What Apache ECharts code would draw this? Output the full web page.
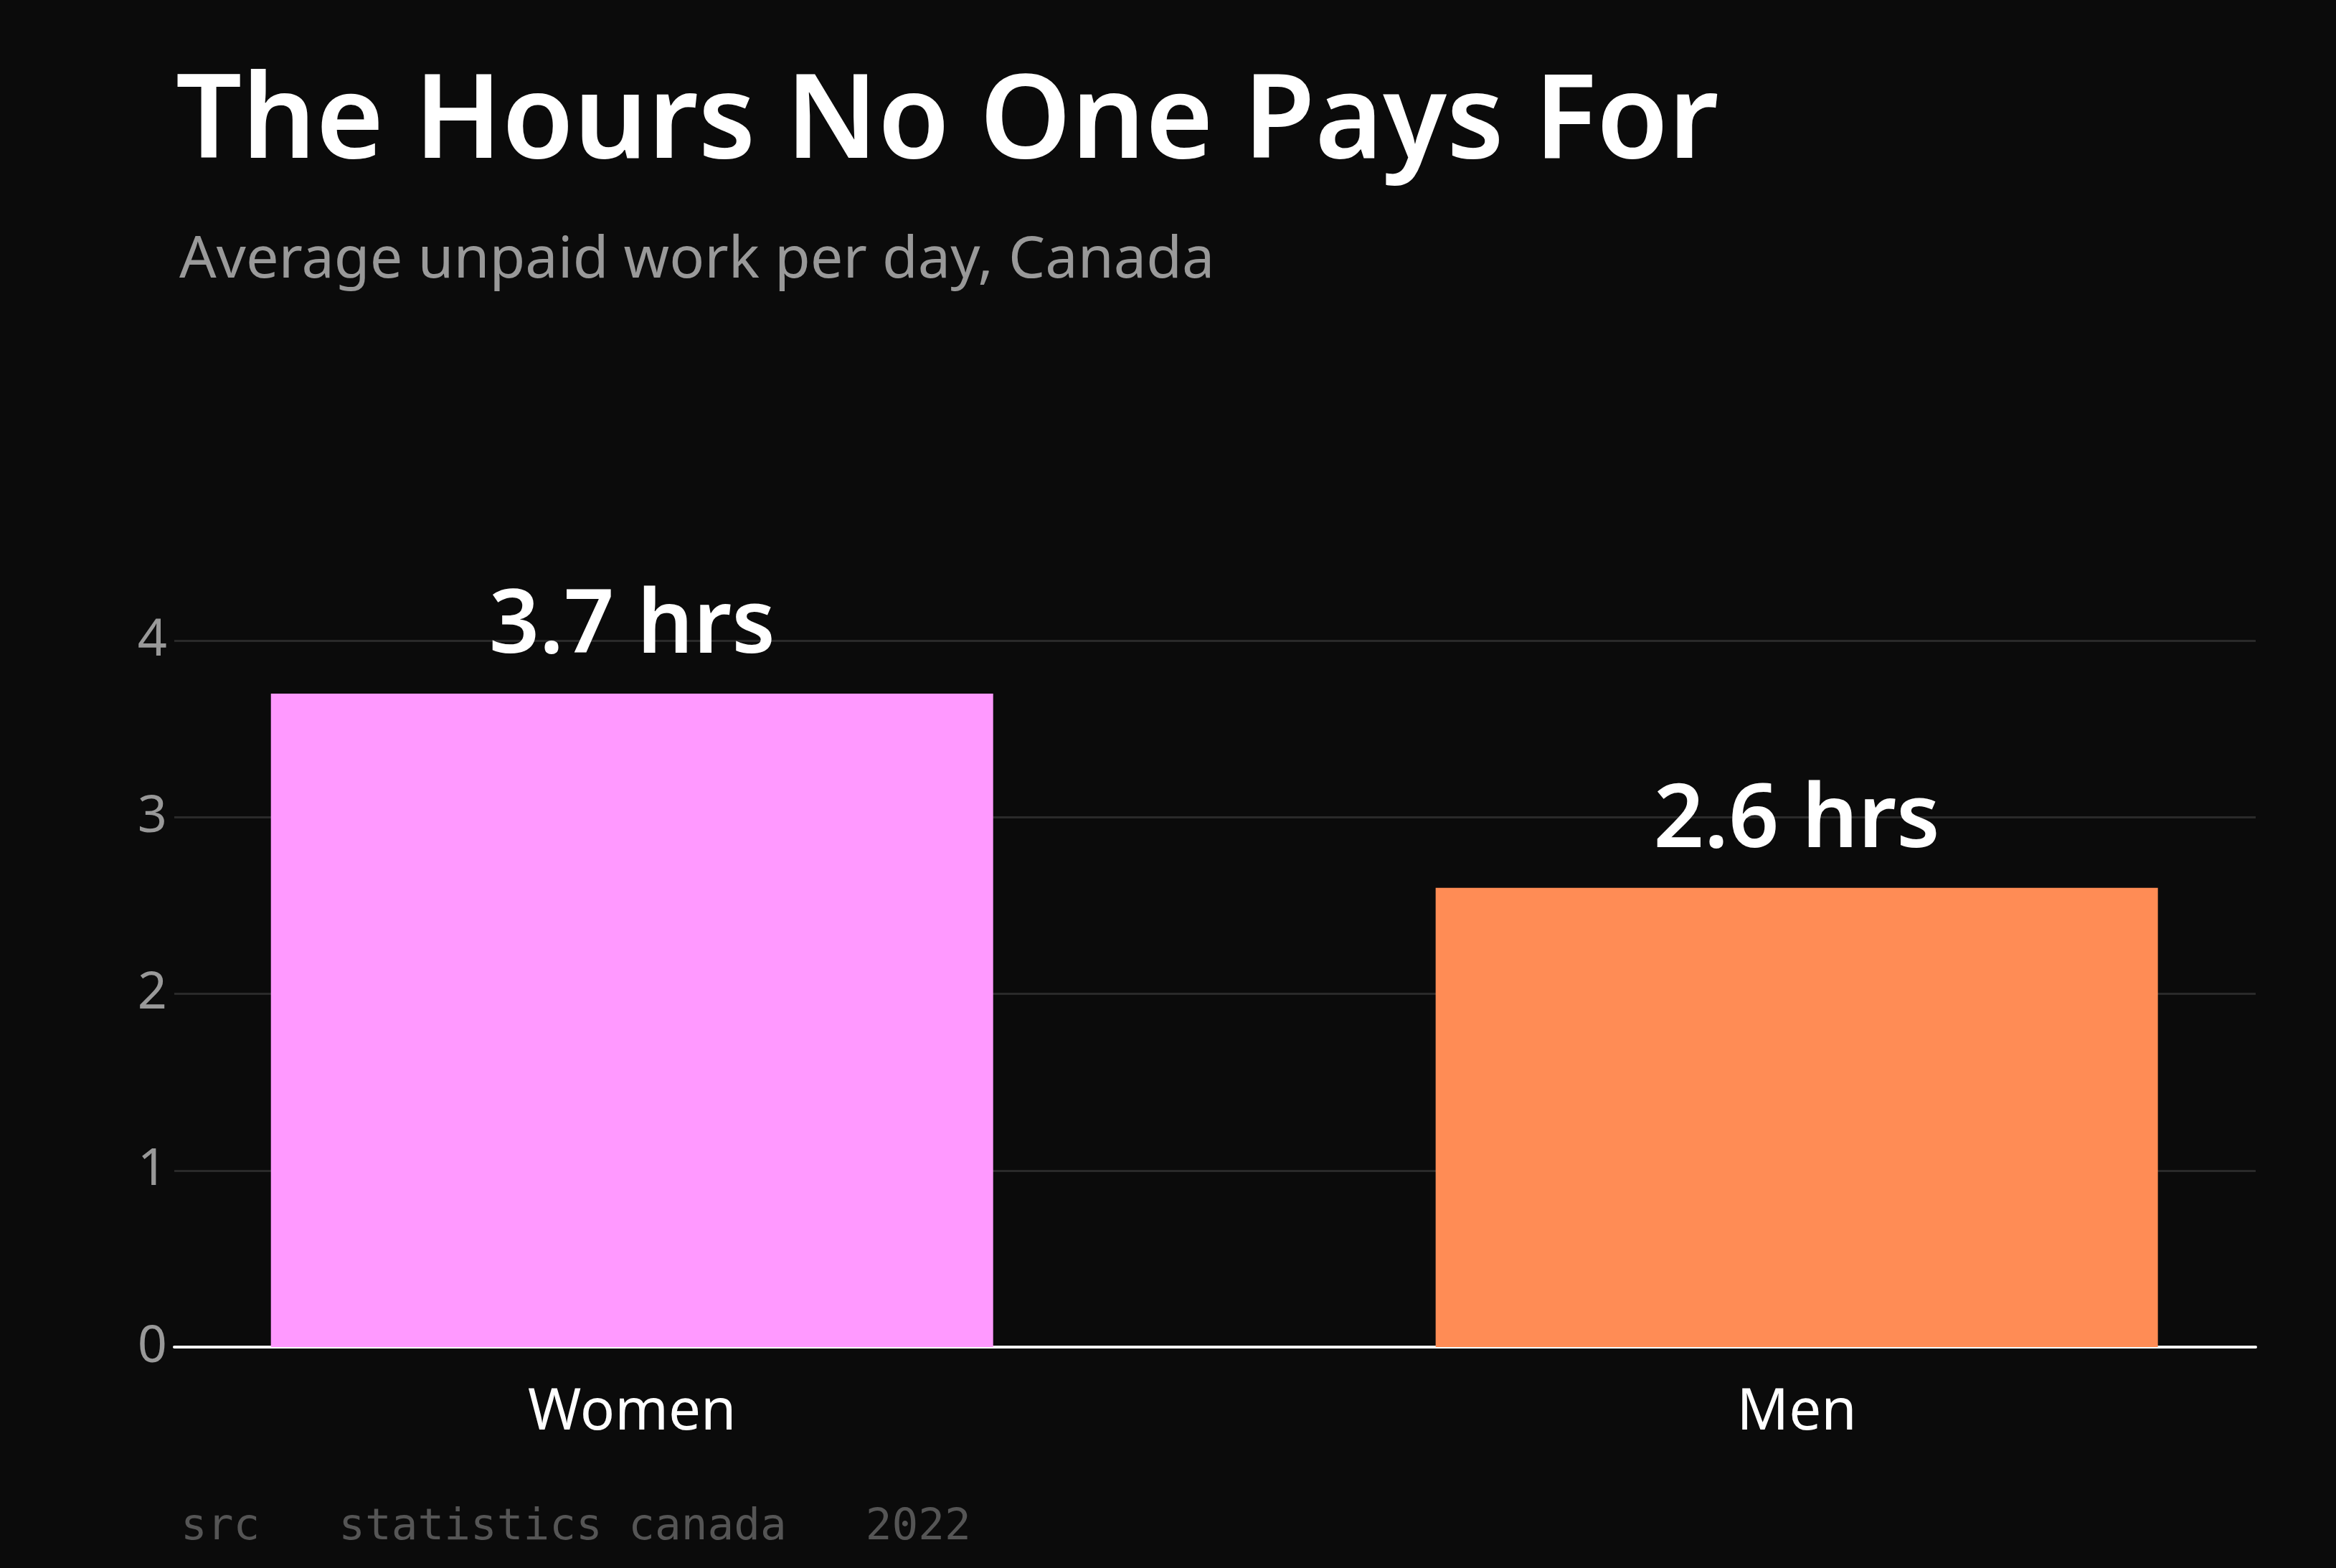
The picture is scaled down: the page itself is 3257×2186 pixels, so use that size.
<!DOCTYPE html>
<html><head><meta charset="utf-8">
<script src="https://cdn.jsdelivr.net/npm/echarts@6/dist/echarts.min.js"></script>
<style>html,body{margin:0;padding:0;background:#0b0b0b}#c{width:3257px;height:2186px}</style>
</head><body><div id="c"></div>
<script>
const categories = ['Women', 'Men'];
const values = [3.7, 2.6];
const barColors = ['#ff99ff', '#ff8c55'];
const yTicks = [0, 1, 2, 3, 4];

const chart = echarts.init(document.getElementById('c'));
chart.setOption({
  backgroundColor: '#0b0b0b',
  animation: false,
  title: [
    { text: 'The Hours No One Pays For', left: 240, top: 88,
      textStyle: { color: '#fff', fontFamily: 'Noto Sans', fontWeight: 600, fontSize: 162 } },
    { text: 'Average unpaid work per day, Canada', left: 245, top: 318,
      textStyle: { color: '#999', fontFamily: 'Noto Sans', fontWeight: 400, fontSize: 81 } },
    { text: 'src   statistics canada   2022', left: 247, top: 2095,
      textStyle: { color: '#555', fontFamily: 'DejaVu Sans Mono', fontWeight: 400, fontSize: 61 } }
  ],
  grid: { left: 243, right: 112, top: 893, bottom: 308 },
  xAxis: {
    type: 'value', min: -0.393, max: 1.394,
    splitLine: { show: false },
    axisLine: { show: true, onZero: false, lineStyle: { color: '#fff', width: 4 } },
    axisTick: { show: false },
    axisLabel: { customValues: [0, 1], formatter: v => categories[Math.round(v)],
      color: '#fff', fontFamily: 'Noto Sans', fontSize: 80, margin: 52 }
  },
  yAxis: {
    type: 'value', min: 0, max: 4, interval: 1,
    axisLine: { show: false }, axisTick: { show: false },
    splitLine: { lineStyle: { color: '#2a2a2a', width: 3 } },
    axisLabel: { color: '#999', fontFamily: 'Noto Sans', fontSize: 72, margin: 10,
      formatter: v => yTicks.includes(v) ? String(v) : '' }
  },
  series: [{
    type: 'bar', barWidth: 1007,
    data: values.map((v, i) => ({ value: [i, v], itemStyle: { color: barColors[i] } })),
    label: { show: true, position: 'top', distance: 30, formatter: p => p.value[1] + ' hrs',
      color: '#fff', fontFamily: 'Noto Sans', fontWeight: 600, fontSize: 123 }
  }]
});
</script></body></html>
